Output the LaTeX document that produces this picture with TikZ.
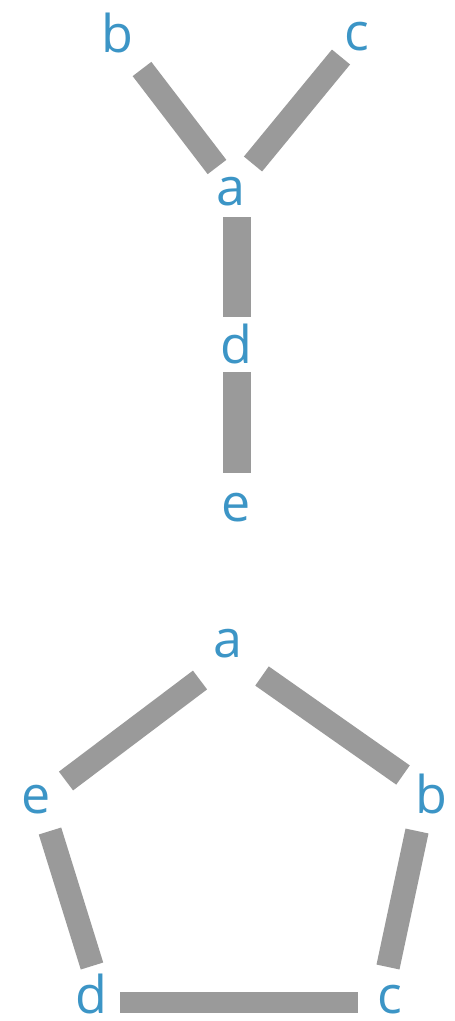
\documentclass[tikz,border=0pt]{standalone}
\usepackage{fontspec}
\setmainfont{Open Sans}
\definecolor{lblblue}{HTML}{3C95C6}
\definecolor{bargray}{HTML}{9A9A9A}
\tikzset{
  lbl/.style={anchor=base, inner sep=0pt, text depth=0pt, text=lblblue, font=\fontsize{52}{60}\selectfont},
  bar/.style={draw=bargray, line width=23.5pt, line cap=butt},
  vbar/.style={bar, line width=28pt},
  hbar/.style={bar, line width=21pt}
}
\begin{document}
\begin{tikzpicture}[x=1pt, y=-1pt]
  \useasboundingbox[fill=white] (0,0) rectangle (455,1021);

  % tree
  \node[lbl] (tb) at (117,52)    {b};
  \node[lbl] (tc) at (357,50)    {c};
  \node[lbl] (ta) at (231,205)   {a};
  \node[lbl] (td) at (236.5,363) {d};
  \node[lbl] (te) at (236,521)   {e};

  \draw[bar]  ([shift={(25,17)}]tb.base)  -- ([shift={(-14,-38)}]ta.base);
  \draw[bar]  ([shift={(-16,7)}]tc.base)  -- ([shift={(22,-41)}]ta.base);
  \draw[vbar] ([shift={(5.5,12)}]ta.base) -- ([shift={(0,-46)}]td.base);
  \draw[vbar] ([shift={(0,9)}]td.base)    -- ([shift={(0.5,-48)}]te.base);

  % pentagon
  \node[lbl] (pa) at (228,657)  {a};
  \node[lbl] (pb) at (431,813)  {b};
  \node[lbl] (pc) at (390,1013) {c};
  \node[lbl] (pd) at (91,1013)  {d};
  \node[lbl] (pe) at (36,813)   {e};

  \draw[bar]  ([shift={(-28,23)}]pa.base) -- ([shift={(30,-32)}]pe.base);
  \draw[bar]  ([shift={(34,19)}]pa.base)  -- ([shift={(-28,-38)}]pb.base);
  \draw[bar]  ([shift={(14,18)}]pe.base)  -- ([shift={(1,-47)}]pd.base);
  \draw[bar]  ([shift={(-14,18)}]pb.base) -- ([shift={(-2,-46)}]pc.base);
  \draw[hbar] ([shift={(29,-11)}]pd.base) -- ([shift={(-32,-11)}]pc.base);
\end{tikzpicture}
\end{document}
